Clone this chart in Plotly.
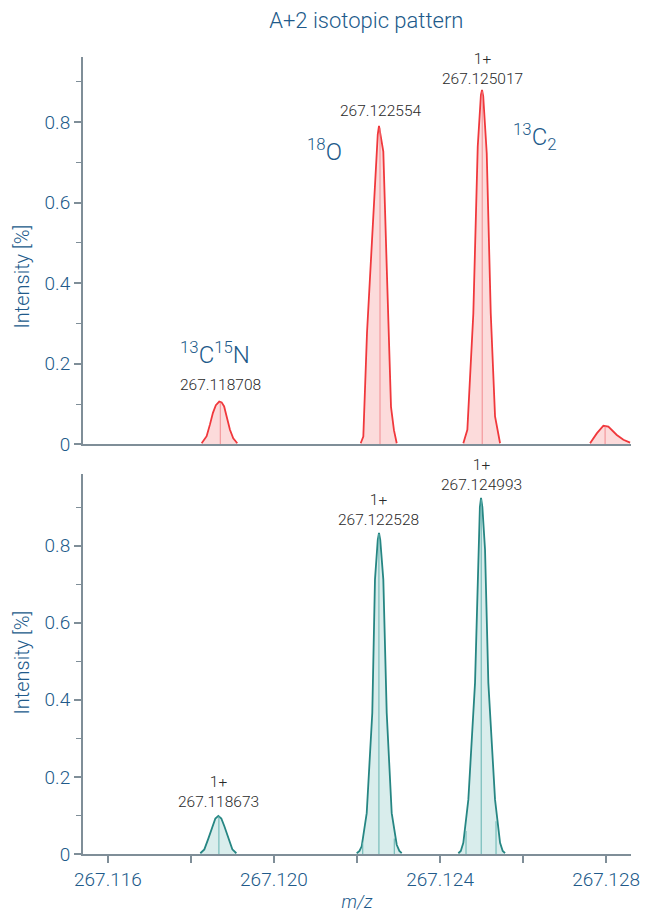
import plotly.graph_objects as go

# ---------------- data ----------------
# Top panel (measured, red) profile peaks: m/z and intensity
top_p1_mz = [267.118258, 267.118378, 267.118460, 267.118530, 267.118600, 267.118682, 267.118740,
             267.118800, 267.118860, 267.118940, 267.119019, 267.119116]
top_p1_int = [0.0025, 0.020, 0.050, 0.078, 0.097, 0.106, 0.104, 0.094, 0.069, 0.036, 0.015, 0.0025]

top_p2_mz = [267.122089, 267.122152, 267.122241, 267.122410, 267.122500, 267.122530, 267.122560,
             267.122634, 267.122716, 267.122819, 267.122890, 267.122957]
top_p2_int = [0.0025, 0.019, 0.277, 0.582, 0.770, 0.791, 0.775, 0.727, 0.441, 0.093, 0.035, 0.0025]

top_p3_mz = [267.124561, 267.124658, 267.124802, 267.124908, 267.124985, 267.125012, 267.125040,
             267.125125, 267.125222, 267.125325, 267.125446]
top_p3_int = [0.0025, 0.036, 0.325, 0.739, 0.868, 0.880, 0.865, 0.723, 0.325, 0.069, 0.0025]

top_p4_mz = [267.127614, 267.127776, 267.127935, 267.128055, 267.128258, 267.128417, 267.128578]
top_p4_int = [0.0025, 0.027, 0.046, 0.044, 0.023, 0.011, 0.004]

top_centroid_mz = [267.118708, 267.122554, 267.125017, 267.127976]
top_centroid_int = [0.104, 0.785, 0.876, 0.045]
top_labels = ["267.118708", "267.122554", "1+<br>267.125017"]

# Bottom panel (simulated, teal) profile peaks
bot_p1_mz = [267.118226, 267.118323, 267.118419, 267.118515, 267.118588, 267.118660,
             267.118732, 267.118805, 267.118901, 267.118997, 267.119094]
bot_p1_int = [0.002, 0.012, 0.040, 0.072, 0.092, 0.099, 0.092, 0.072, 0.040, 0.012, 0.002]

bot_p2_mz = [267.121993, 267.122060, 267.122113, 267.122234, 267.122368, 267.122433, 267.122500,
             267.122530, 267.122560, 267.122634, 267.122716, 267.122836, 267.122957, 267.123020,
             267.123077]
bot_p2_int = [0.002, 0.008, 0.020, 0.106, 0.366, 0.712, 0.815, 0.833, 0.815, 0.712, 0.366, 0.106,
              0.024, 0.008, 0.002]

bot_p3_mz = [267.124441, 267.124500, 267.124561, 267.124682, 267.124843, 267.124923, 267.124960,
             267.124988, 267.125020, 267.125084, 267.125164, 267.125325, 267.125446, 267.125510,
             267.125566]
bot_p3_int = [0.002, 0.008, 0.029, 0.141, 0.444, 0.790, 0.900, 0.924, 0.900, 0.790, 0.444, 0.141,
              0.029, 0.008, 0.002]

bot_centroid_mz = [267.118673, 267.122528, 267.124993]
bot_centroid_int = [0.098, 0.830, 0.920]
bot_side_mz = [267.122137, 267.122899, 267.124626, 267.125349]
bot_side_int = [0.030, 0.040, 0.060, 0.085]
bot_labels = ["1+<br>267.118673", "1+<br>267.122528", "1+<br>267.124993"]

element_labels = ["<sup>13</sup>C<sup>15</sup>N", "<sup>18</sup>O", "<sup>13</sup>C<sub>2</sub>"]
element_mz = [267.118578, 267.121229, 267.126289]
element_int = [0.227, 0.731, 0.764]

x_tickvals = [267.116, 267.120, 267.124, 267.128]
x_ticktext = ["267.116", "267.120", "267.124", "267.128"]
y_title = "Intensity [%]"

# ---------------- styling ----------------
FONT = "Roboto, Noto Sans, sans-serif"
BLUE = "#215a8a"
AXIS = "#7f8e98"
RED = "#f0383c"
RED_FILL = "rgba(250,190,190,0.55)"
RED_STICK = "rgba(240,130,135,0.75)"
TEAL = "#268683"
TEAL_FILL = "rgba(170,215,212,0.45)"
TEAL_STICK = "rgba(100,180,176,0.85)"
W = 300

fig = go.Figure()


def sticks(xs, ys):
    sx, sy = [], []
    for x, y in zip(xs, ys):
        sx += [x, x, None]
        sy += [0, y, None]
    return sx, sy


for mz, inten in [(top_p1_mz, top_p1_int), (top_p2_mz, top_p2_int),
                  (top_p3_mz, top_p3_int), (top_p4_mz, top_p4_int)]:
    fig.add_trace(go.Scatter(x=mz, y=inten, mode="lines", fill="tozeroy",
                             fillcolor=RED_FILL, line=dict(color=RED, width=1.8),
                             xaxis="x", yaxis="y", showlegend=False, hoverinfo="skip"))
sx, sy = sticks(top_centroid_mz, top_centroid_int)
fig.add_trace(go.Scatter(x=sx, y=sy, mode="lines", line=dict(color=RED_STICK, width=1.2),
                         xaxis="x", yaxis="y", showlegend=False, hoverinfo="skip"))

for mz, inten in [(bot_p1_mz, bot_p1_int), (bot_p2_mz, bot_p2_int), (bot_p3_mz, bot_p3_int)]:
    fig.add_trace(go.Scatter(x=mz, y=inten, mode="lines", fill="tozeroy",
                             fillcolor=TEAL_FILL, line=dict(color=TEAL, width=1.8),
                             xaxis="x2", yaxis="y2", showlegend=False, hoverinfo="skip"))
sx, sy = sticks(bot_centroid_mz + bot_side_mz, bot_centroid_int + bot_side_int)
fig.add_trace(go.Scatter(x=sx, y=sy, mode="lines", line=dict(color=TEAL_STICK, width=1.2),
                         xaxis="x2", yaxis="y2", showlegend=False, hoverinfo="skip"))

annotations = []
shifts_top = [6, 6, 2]
NUMFONT = dict(family=FONT, size=15.5, color="#2a2a2a", weight=W)
for mz, h, t, s in zip(top_centroid_mz[:3], top_centroid_int[:3], top_labels, shifts_top):
    annotations.append(dict(x=mz, y=h, xref="x", yref="y", text=t, showarrow=False,
                            yanchor="bottom", yshift=s, font=NUMFONT))
for mz, h, t in zip(bot_centroid_mz, bot_centroid_int, bot_labels):
    annotations.append(dict(x=mz, y=h, xref="x2", yref="y2", text=t, showarrow=False,
                            yanchor="bottom", yshift=3, font=NUMFONT))
for mz, h, t in zip(element_mz, element_int, element_labels):
    annotations.append(dict(x=mz, y=h, xref="x", yref="y", text=t, showarrow=False,
                            yanchor="middle", font=dict(family=FONT, size=24, color=BLUE, weight=W)))
# y-axis titles
for ypos in [0.724, 0.2397]:
    annotations.append(dict(x=-0.112, y=ypos, xref="paper", yref="paper", text=y_title,
                            textangle=-90, showarrow=False, xanchor="center", yanchor="middle",
                            font=dict(family=FONT, size=20, color=BLUE, weight=W)))

xaxis_common = dict(range=[267.11540, 267.12860], showline=True, linecolor=AXIS, linewidth=2,
                    showgrid=False, zeroline=False, tickvals=x_tickvals, ticktext=x_ticktext,
                    automargin=False,
                    tickfont=dict(family=FONT, size=19, color=BLUE, weight=W))
yaxis_common = dict(showline=True, linecolor=AXIS, linewidth=2, showgrid=False, zeroline=False,
                    dtick=0.2, tick0=0, ticks="outside", ticklen=7, tickcolor=AXIS, tickwidth=1.5,
                    automargin=False,
                    minor=dict(dtick=0.1, ticks="outside", ticklen=5, tickcolor=AXIS, tickwidth=1.2),
                    tickfont=dict(family=FONT, size=19, color=BLUE, weight=W))

fig.update_layout(
    width=660, height=912,
    margin=dict(l=83, r=29, t=57, b=58),
    paper_bgcolor="white", plot_bgcolor="white",
    title=dict(text="A+2 isotopic pattern", x=0.555, xanchor="center", y=0.978, yanchor="middle",
               font=dict(family=FONT, size=22, color=BLUE, weight=W)),
    xaxis=dict(**xaxis_common, domain=[0, 1], anchor="y", showticklabels=False, ticks=""),
    yaxis=dict(**yaxis_common, domain=[0.5141, 1.0], range=[0, 0.962], anchor="x"),
    xaxis2=dict(**xaxis_common, domain=[0, 1], anchor="y2", ticks="outside", ticklen=7,
                tickcolor=AXIS, tickwidth=1.5,
                minor=dict(dtick=0.002, tick0=267.116, ticks="outside", ticklen=7, tickcolor=AXIS, tickwidth=1.5),
                title=dict(text="<i>m/z</i>", font=dict(family=FONT, size=18, color=BLUE, weight=W), standoff=8)),
    yaxis2=dict(**yaxis_common, domain=[0, 0.4768], range=[0, 0.986], anchor="x2"),
    annotations=annotations,
)

fig.write_html("out.html")
